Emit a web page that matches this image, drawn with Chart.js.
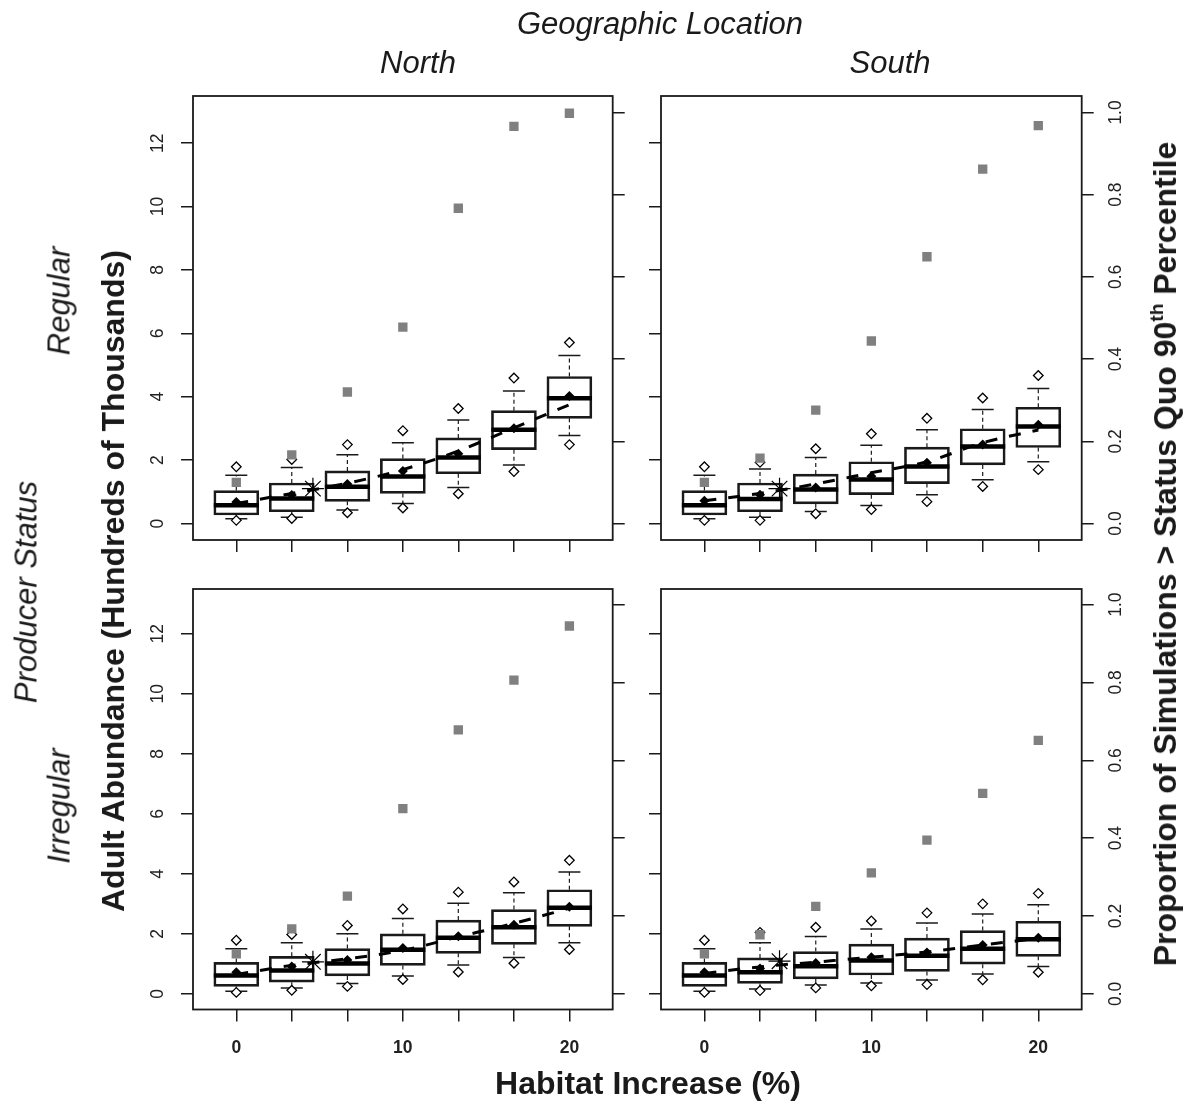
<!DOCTYPE html>
<html><head><meta charset="utf-8">
<script src="https://cdn.jsdelivr.net/npm/chart.js@4/dist/chart.umd.min.js"></script>
<style>
html,body{margin:0;padding:0;background:#fff;}
#wrap{position:relative;width:1186px;height:1103px;overflow:hidden;font-family:"Liberation Sans",Arial,Helvetica,sans-serif;color:#1a1a1a;background:#fff;}
canvas{position:absolute;left:0;top:0;}
.t{position:absolute;white-space:nowrap;line-height:1;transform:translate(-50%,-50%);}
.r{transform:translate(-50%,-50%) rotate(-90deg);}
.i{font-style:italic;font-size:31px;}
.b{font-weight:bold;font-size:32px;}
sup{font-size:60%;line-height:0;vertical-align:0.7em;}
</style></head>
<body><div id="wrap">
<canvas id="c0" width="1186" height="1103"></canvas>
<canvas id="c1" width="1186" height="1103"></canvas>
<canvas id="c2" width="1186" height="1103"></canvas>
<canvas id="c3" width="1186" height="1103"></canvas>
<div class="t i" style="left:660px;top:23px">Geographic Location</div>
<div class="t i" style="left:418px;top:62px">North</div>
<div class="t i" style="left:890px;top:62px">South</div>
<div class="t i r" style="left:26px;top:592px">Producer Status</div>
<div class="t i r" style="left:59px;top:301px">Regular</div>
<div class="t i r" style="left:59px;top:806px">Irregular</div>
<div class="t b r" style="left:113px;top:581px">Adult Abundance (Hundreds of Thousands)</div>
<div class="t b r" style="left:1165px;top:554px">Proportion of Simulations &gt; Status Quo 90<sup>th</sup> Percentile</div>
<div class="t b" style="left:648px;top:1083px">Habitat Increase (%)</div>
</div>
<script>
// ---- categories & tick labels ----
const habitat = [0, 3.33, 6.67, 10, 13.33, 16.67, 20];
const xTickValues = [0, 3.33, 6.67, 10, 13.33, 16.67, 20];
const xTickLabels = ['0', '', '', '10', '', '', '20'];
const yLeftTicks = [0, 2, 4, 6, 8, 10, 12];
const yLeftLabels = ['0', '2', '4', '6', '8', '10', '12'];
const yRightTicks = [0, 0.2, 0.4, 0.6, 0.8, 1.0];
const yRightLabels = ['0.0', '0.2', '0.4', '0.6', '0.8', '1.0'];

// ---- North / Regular ----
const nrLowPt   = [0.10, 0.16, 0.34, 0.49, 0.94, 1.64, 2.49];
const nrWhiskLo = [0.15, 0.20, 0.43, 0.63, 1.14, 1.85, 2.78];
const nrQ1      = [0.27, 0.37, 0.70, 0.95, 1.57, 2.33, 3.32];
const nrMedian  = [0.58, 0.79, 1.16, 1.48, 2.08, 2.96, 3.95];
const nrQ3      = [1.04, 1.28, 1.66, 2.05, 2.70, 3.56, 4.64];
const nrWhiskHi = [1.52, 1.77, 2.17, 2.55, 3.27, 4.18, 5.30];
const nrHighPt  = [1.79, 2.02, 2.49, 2.93, 3.63, 4.59, 5.71];
const nrMean    = [0.68, 0.90, 1.25, 1.66, 2.20, 3.01, 4.02];
const nrTrend   = [0.63, 0.95, 1.27, 1.70, 2.29, 3.02, 3.75];
const nrProp    = [0.10, 0.167, 0.32, 0.478, 0.767, 0.966, 0.998];
const nrStar    = [4.6, 1.10];

// ---- South / Regular ----
const srLowPt   = [0.10, 0.10, 0.31, 0.44, 0.69, 1.17, 1.70];
const srWhiskLo = [0.15, 0.20, 0.38, 0.57, 0.91, 1.38, 1.95];
const srQ1      = [0.27, 0.37, 0.62, 0.91, 1.26, 1.85, 2.40];
const srMedian  = [0.58, 0.77, 1.07, 1.39, 1.80, 2.43, 3.06];
const srQ3      = [1.04, 1.28, 1.56, 1.95, 2.41, 2.99, 3.67];
const srWhiskHi = [1.52, 1.72, 2.08, 2.47, 2.96, 3.60, 4.26];
const srHighPt  = [1.79, 1.93, 2.36, 2.83, 3.32, 3.96, 4.67];
const srMean    = [0.72, 0.91, 1.14, 1.49, 1.92, 2.49, 3.12];
const srTrend   = [0.72, 0.95, 1.25, 1.60, 1.95, 2.55, 2.95];
const srProp    = [0.10, 0.159, 0.276, 0.444, 0.649, 0.862, 0.968];
const srStar    = [4.5, 1.10];

// ---- North / Irregular ----
const niLowPt   = [0.05, 0.12, 0.25, 0.48, 0.73, 1.02, 1.48];
const niWhiskLo = [0.09, 0.20, 0.35, 0.60, 0.96, 1.21, 1.70];
const niQ1      = [0.25, 0.39, 0.60, 0.95, 1.35, 1.65, 2.25];
const niMedian  = [0.61, 0.78, 1.01, 1.47, 1.87, 2.22, 2.87];
const niQ3      = [1.05, 1.25, 1.51, 2.00, 2.46, 2.81, 3.47];
const niWhiskHi = [1.50, 1.70, 2.00, 2.51, 3.02, 3.37, 4.06];
const niHighPt  = [1.79, 1.98, 2.28, 2.83, 3.39, 3.73, 4.45];
const niMean    = [0.72, 0.91, 1.13, 1.53, 1.92, 2.30, 2.90];
const niTrend   = [0.65, 0.95, 1.17, 1.45, 1.90, 2.35, 2.85];
const niProp    = [0.103, 0.167, 0.251, 0.476, 0.678, 0.806, 0.945];
const niStar    = [4.6, 1.07];

// ---- South / Irregular ----
const siLowPt   = [0.05, 0.11, 0.20, 0.27, 0.31, 0.47, 0.72];
const siWhiskLo = [0.09, 0.16, 0.30, 0.36, 0.46, 0.66, 0.91];
const siQ1      = [0.25, 0.35, 0.50, 0.63, 0.75, 0.99, 1.25];
const siMedian  = [0.61, 0.72, 0.92, 1.11, 1.27, 1.50, 1.82];
const siQ3      = [1.05, 1.20, 1.41, 1.66, 1.86, 2.11, 2.42];
const siWhiskHi = [1.50, 1.70, 1.91, 2.16, 2.36, 2.66, 2.97];
const siHighPt  = [1.79, 2.05, 2.22, 2.43, 2.70, 3.00, 3.35];
const siMean    = [0.72, 0.85, 1.03, 1.22, 1.38, 1.63, 1.87];
const siTrend   = [0.68, 0.90, 1.06, 1.22, 1.40, 1.63, 1.85];
const siProp    = [0.103, 0.152, 0.225, 0.311, 0.395, 0.515, 0.651];
const siStar    = [4.5, 1.09];

const INK = '#1a1a1a';
const FONT = '"Liberation Sans", Arial, Helvetica, sans-serif';

const framePlugin = {
  id: 'frame',
  afterDraw(chart, args, opts) {
    const {ctx, chartArea: a} = chart;
    ctx.save();
    ctx.strokeStyle = INK; ctx.lineWidth = 1.8;
    ctx.strokeRect(a.left, a.top, a.right - a.left, a.bottom - a.top);
    ctx.fillStyle = '#222';
    ctx.textAlign = 'center'; ctx.textBaseline = 'middle';
    ctx.font = '17.5px ' + FONT;
    if (opts.left) {
      const s = chart.scales.y;
      s.ticks.forEach((t, i) => {
        ctx.save(); ctx.translate(a.left - 35, s.getPixelForValue(t.value));
        ctx.rotate(-Math.PI / 2); ctx.fillText(yLeftLabels[i], 0, 0); ctx.restore();
      });
    }
    if (opts.right) {
      const s = chart.scales.y2;
      s.ticks.forEach((t, i) => {
        ctx.save(); ctx.translate(a.right + 34.5, s.getPixelForValue(t.value));
        ctx.rotate(-Math.PI / 2); ctx.fillText(yRightLabels[i], 0, 0); ctx.restore();
      });
    }
    if (opts.bottom) {
      ctx.font = 'bold 17.5px ' + FONT;
      const s = chart.scales.x;
      s.ticks.forEach((t, i) => {
        if (xTickLabels[i]) ctx.fillText(xTickLabels[i], s.getPixelForValue(t.value), a.bottom + 39);
      });
    }
    ctx.restore();
  }
};

function pts(ys) { return habitat.map((x, i) => ({x, y: ys[i]})); }

function makePanel(id, area, P, flags) {
  const W = 1186, H = 1103, AX = 60;
  const whisk = [];
  habitat.forEach((x, i) => {
    whisk.push({x, y: P.q3[i]}, {x, y: P.hi[i]}, {x, y: null},
               {x, y: P.q1[i]}, {x, y: P.lo[i]}, {x, y: null});
  });
  const caps = pts(P.lo).concat(pts(P.hi));
  const diamonds = pts(P.lowPt).concat(pts(P.highPt));
  const tickGrid = {display: true, drawOnChartArea: false, drawTicks: true, tickLength: 12, color: INK, lineWidth: 1.5, offset: false};
  new Chart(document.getElementById(id), {
    type: 'bar',
    data: {datasets: [
      {type: 'bar', data: habitat.map((x, i) => ({x, y: [P.q1[i], P.q3[i]]})), backgroundColor: 'rgba(255,255,255,0)',
       borderColor: INK, borderWidth: 2, borderSkipped: false, barThickness: 45, order: 10, yAxisID: 'y'},
      {type: 'line', data: whisk, borderColor: INK, borderWidth: 1.2, borderDash: [4, 3], pointRadius: 0, spanGaps: false, order: 9, yAxisID: 'y'},
      {type: 'scatter', data: caps, pointStyle: 'line', pointRadius: 11, pointBorderWidth: 1.5, pointBorderColor: INK, order: 8, yAxisID: 'y'},
      {type: 'line', data: pts(P.trend), borderColor: '#000', borderWidth: 3, borderDash: [12, 12], pointRadius: 0, cubicInterpolationMode: 'monotone', order: 7, yAxisID: 'y'},
      {type: 'scatter', data: pts(P.med), pointStyle: 'line', pointRadius: 22.5, pointBorderWidth: 4.5, pointBorderColor: '#000', order: 6, yAxisID: 'y'},
      {type: 'scatter', data: pts(P.mean), pointStyle: 'rectRot', pointRadius: 5, pointBackgroundColor: '#000', pointBorderColor: '#000', pointBorderWidth: 0, order: 5, yAxisID: 'y'},
      {type: 'scatter', data: diamonds, pointStyle: 'rectRot', pointRadius: 4.8, pointBackgroundColor: '#fff', pointBorderColor: '#000', pointBorderWidth: 1.3, order: 4, yAxisID: 'y'},
      {type: 'scatter', data: [{x: P.star[0], y: P.star[1]}], pointStyle: 'star', pointRadius: 11, pointBorderColor: '#000', pointBorderWidth: 1.2, order: 3, yAxisID: 'y'},
      {type: 'scatter', data: pts(P.prop), pointStyle: 'rect', pointRadius: 6.6, pointBackgroundColor: '#808080', pointBorderColor: '#808080', pointBorderWidth: 0, order: 2, yAxisID: 'y2'}
    ]},
    options: {
      responsive: false, animation: false, devicePixelRatio: 1, events: [],
      layout: {padding: {left: area.left - AX, right: W - area.right - AX, top: area.top, bottom: H - area.bottom - AX}},
      plugins: {legend: {display: false}, tooltip: {enabled: false}, frame: flags},
      scales: {
        x: {type: 'linear', position: 'bottom', min: -2.6, max: 22.6, offset: false,
            afterBuildTicks: s => { s.ticks = xTickValues.map(v => ({value: v})); },
            afterFit: s => { s.height = AX; },
            ticks: {display: false}, grid: tickGrid, border: {display: false}},
        y: {type: 'linear', position: 'left', min: -0.52, max: 13.49, beginAtZero: false,
            afterBuildTicks: s => { s.ticks = yLeftTicks.map(v => ({value: v})); },
            afterFit: s => { s.width = AX; },
            ticks: {display: false}, grid: tickGrid, border: {display: false}},
        y2: {type: 'linear', position: 'right', min: -0.04, max: 1.04, beginAtZero: false,
            afterBuildTicks: s => { s.ticks = yRightTicks.map(v => ({value: v})); },
            afterFit: s => { s.width = AX; },
            ticks: {display: false}, grid: tickGrid, border: {display: false}}
      }
    },
    plugins: [framePlugin]
  });
}

makePanel('c0', {left: 193, right: 612.7, top: 96, bottom: 540},
  {lowPt: nrLowPt, lo: nrWhiskLo, q1: nrQ1, med: nrMedian, q3: nrQ3, hi: nrWhiskHi, highPt: nrHighPt, mean: nrMean, trend: nrTrend, prop: nrProp, star: nrStar},
  {left: true, right: false, bottom: false});
makePanel('c1', {left: 661, right: 1081.7, top: 96, bottom: 540},
  {lowPt: srLowPt, lo: srWhiskLo, q1: srQ1, med: srMedian, q3: srQ3, hi: srWhiskHi, highPt: srHighPt, mean: srMean, trend: srTrend, prop: srProp, star: srStar},
  {left: false, right: true, bottom: false});
makePanel('c2', {left: 193, right: 612.7, top: 589, bottom: 1009.5},
  {lowPt: niLowPt, lo: niWhiskLo, q1: niQ1, med: niMedian, q3: niQ3, hi: niWhiskHi, highPt: niHighPt, mean: niMean, trend: niTrend, prop: niProp, star: niStar},
  {left: true, right: false, bottom: true});
makePanel('c3', {left: 661, right: 1081.7, top: 589, bottom: 1009.5},
  {lowPt: siLowPt, lo: siWhiskLo, q1: siQ1, med: siMedian, q3: siQ3, hi: siWhiskHi, highPt: siHighPt, mean: siMean, trend: siTrend, prop: siProp, star: siStar},
  {left: false, right: true, bottom: true});
</script>
</body></html>
